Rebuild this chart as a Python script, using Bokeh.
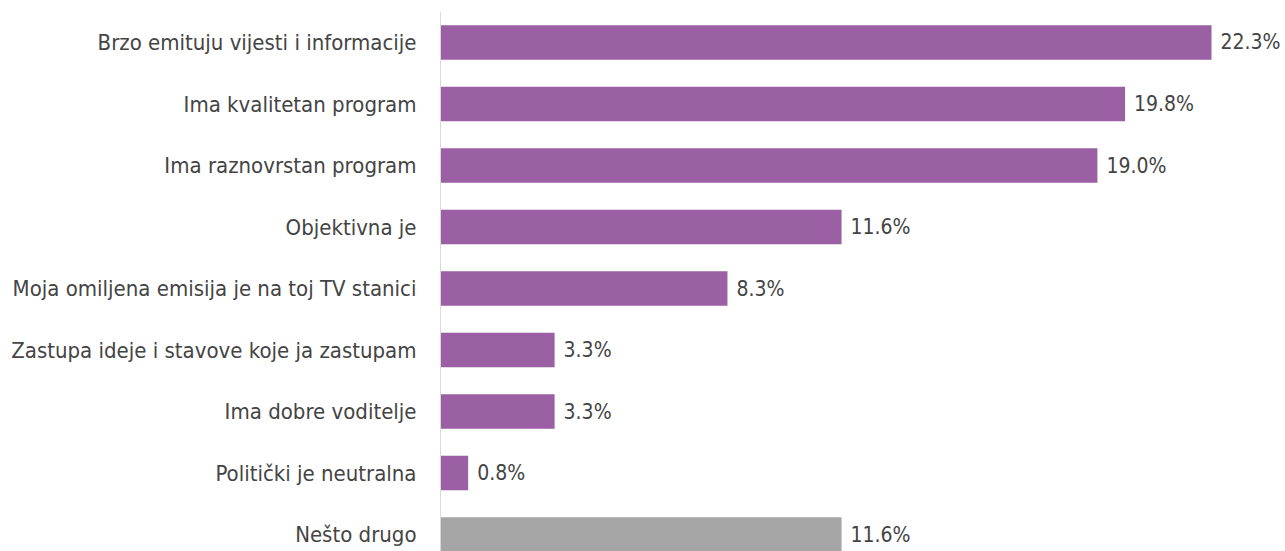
from bokeh.plotting import figure
from bokeh.models import ColumnDataSource, Range1d, FixedTicker, LabelSet
from bokeh.core.properties import value
from bokeh.embed import file_html
from bokeh.resources import INLINE

categories = [
    "Brzo emituju vijesti i informacije",
    "Ima kvalitetan program",
    "Ima raznovrstan program",
    "Objektivna je",
    "Moja omiljena emisija je na toj TV stanici",
    "Zastupa ideje i stavove koje ja zastupam",
    "Ima dobre voditelje",
    "Politički je neutralna",
    "Nešto drugo",
]
values = [22.3, 19.8, 19.0, 11.6, 8.3, 3.3, 3.3, 0.8, 11.6]

PURPLE = "#9b5fa4"
GREY = "#a5a5a5"
FONT = "DejaVu Sans Condensed"

idx = list(range(len(categories)))
colors = [GREY if c == "Nešto drugo" else PURPLE for c in categories]
labels = [f"{v:.1f}%" for v in values]

src = ColumnDataSource(dict(y=idx, v=values, c=colors, lab=labels))

p = figure(width=1285, height=551, output_backend="svg", toolbar_location=None,
           x_range=Range1d(0, 24.44), y_range=Range1d(8.276, -0.504),
           min_border_left=440, min_border_right=0, min_border_top=11, min_border_bottom=0)
p.outline_line_color = None
p.background_fill_color = "white"
p.border_fill_color = "white"
p.xgrid.visible = False
p.ygrid.visible = False
p.xaxis.visible = False

p.hbar(y="y", right="v", left=0, height=0.56, fill_color="c", line_color=None, source=src)

p.add_layout(LabelSet(x="v", y="y", text="lab", source=src, x_offset=9, y_offset=0,
                      text_baseline="middle", text_align="left", text_font_size="21px",
                      text_font=value(FONT), text_color="#444444"))

ax = p.yaxis[0]
ax.ticker = FixedTicker(ticks=idx)
ax.major_label_overrides = {i: c for i, c in zip(idx, categories)}
ax.major_tick_line_color = None
ax.minor_tick_line_color = None
ax.axis_line_color = "#d9d9d9"
ax.axis_line_width = 1
ax.major_label_standoff = 18
ax.major_label_text_font = FONT
ax.major_label_text_font_size = "22px"
ax.major_label_text_color = "#444444"

open("out.html", "w").write(file_html(p, INLINE))
